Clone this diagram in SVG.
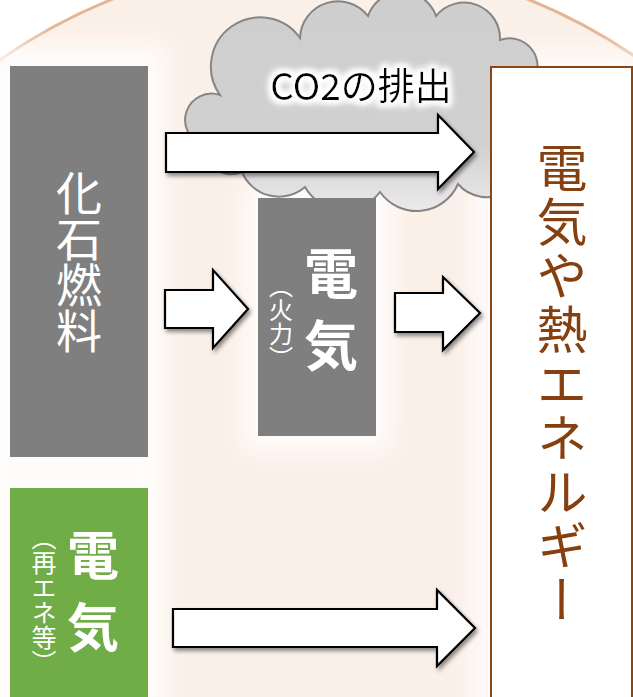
<svg xmlns="http://www.w3.org/2000/svg" width="633" height="697" viewBox="0 0 633 697">
<defs>
<style>
.jp{font-family:"Noto Sans CJK JP","Noto Sans",sans-serif;}
.vt{writing-mode:vertical-rl;text-anchor:middle;}
.arrow{fill:#ffffff;stroke:#000000;stroke-width:2.2;stroke-linejoin:miter;filter:url(#shadow);}
</style>
<filter id="shadow" x="-10%" y="-20%" width="130%" height="150%">
<feDropShadow dx="2" dy="3" stdDeviation="2" flood-color="#000" flood-opacity="0.45"/>
</filter>
<filter id="glow" x="-30%" y="-30%" width="160%" height="160%">
<feGaussianBlur stdDeviation="12"/>
</filter>
<filter id="textglow" x="-20%" y="-40%" width="140%" height="180%">
<feMorphology in="SourceAlpha" operator="dilate" radius="2.5" result="d"/>
<feGaussianBlur in="d" stdDeviation="3" result="b"/>
<feFlood flood-color="#ffffff"/>
<feComposite in2="b" operator="in" result="w"/>
<feMerge><feMergeNode in="w"/><feMergeNode in="w"/><feMergeNode in="SourceGraphic"/></feMerge>
</filter>
<linearGradient id="cloudg" x1="0" y1="0" x2="0" y2="1">
<stop offset="0" stop-color="#cfcecf"/>
<stop offset="0.7" stop-color="#d2d1d2"/>
<stop offset="1" stop-color="#ebe9e9"/>
</linearGradient>
</defs>
<rect x="0" y="0" width="633" height="697" fill="#ffffff"/>
<g id="background">
<circle cx="320" cy="516" r="557" fill="#fbf0e8" stroke="#e4b594" stroke-width="3"/>
<rect x="-20" y="45" width="185" height="680" fill="#ffffff" opacity="0.85" filter="url(#glow)"/>
<rect x="245" y="185" width="145" height="265" fill="#ffffff" opacity="0.9" filter="url(#glow)"/>
<rect x="470" y="50" width="180" height="680" fill="#ffffff" opacity="0.7" filter="url(#glow)"/>
</g>
<g id="cloud">
<path d="M203,145 A26,26 0 0 1 220,95 A46,46 0 0 1 300,38 A38,38 0 0 1 368,16 A36,36 0 0 1 436,16 A36,36 0 0 1 500,40 A28,28 0 0 1 535,78 A32,32 0 0 1 522,145 A38,38 0 0 1 458,184 A45,45 0 0 1 380,192 A45,45 0 0 1 305,187 A40,40 0 0 1 242,172 A28,28 0 0 1 203,145 Z" fill="url(#cloudg)" stroke="#858585" stroke-width="2"/>
<text x="361" y="100" class="jp" font-size="37" fill="#000000" text-anchor="middle" filter="url(#textglow)">CO2の排出</text>
</g>
<g id="fossil">
<rect x="10" y="66" width="138" height="391" fill="#7f7f7f"/>
<text x="79" y="262" class="jp vt" font-size="46" fill="#ffffff">化石燃料</text>
</g>
<g id="thermal">
<rect x="258" y="198" width="118" height="238" fill="#7f7f7f"/>
<text x="331" y="318" class="jp vt" font-size="54" font-weight="bold" letter-spacing="18" fill="#ffffff">電気</text>
<text x="281" y="322" class="jp vt" font-size="24" fill="#ffffff">（火力）</text>
</g>
<g id="renewable">
<rect x="10" y="488" width="138" height="215" fill="#70ad47"/>
<text x="93" y="601" class="jp vt" font-size="52" font-weight="bold" letter-spacing="20" fill="#ffffff">電気</text>
<text x="44" y="600" class="jp vt" font-size="25" fill="#ffffff">（再エネ等）</text>
</g>
<g id="energy">
<rect x="491" y="67" width="141" height="640" fill="#ffffff" stroke="#8a4513" stroke-width="2"/>
<text x="562" y="385" class="jp vt" font-size="51" letter-spacing="3" fill="#86400f">電気や熱エネルギー</text>
</g>
<g id="connectors">
<polygon class="arrow" points="166,133 438,133 438,115 474,152 438,189 438,172 166,172"/>
<polygon class="arrow" points="165,290 213,290 213,270 248,309 213,348 213,328 165,328"/>
<polygon class="arrow" points="395,293 443,293 443,277 480,313 443,350 443,332 395,332"/>
<polygon class="arrow" points="173,609 437,609 437,590 475,628 437,666 437,647 173,647"/>
</g>
</svg>
